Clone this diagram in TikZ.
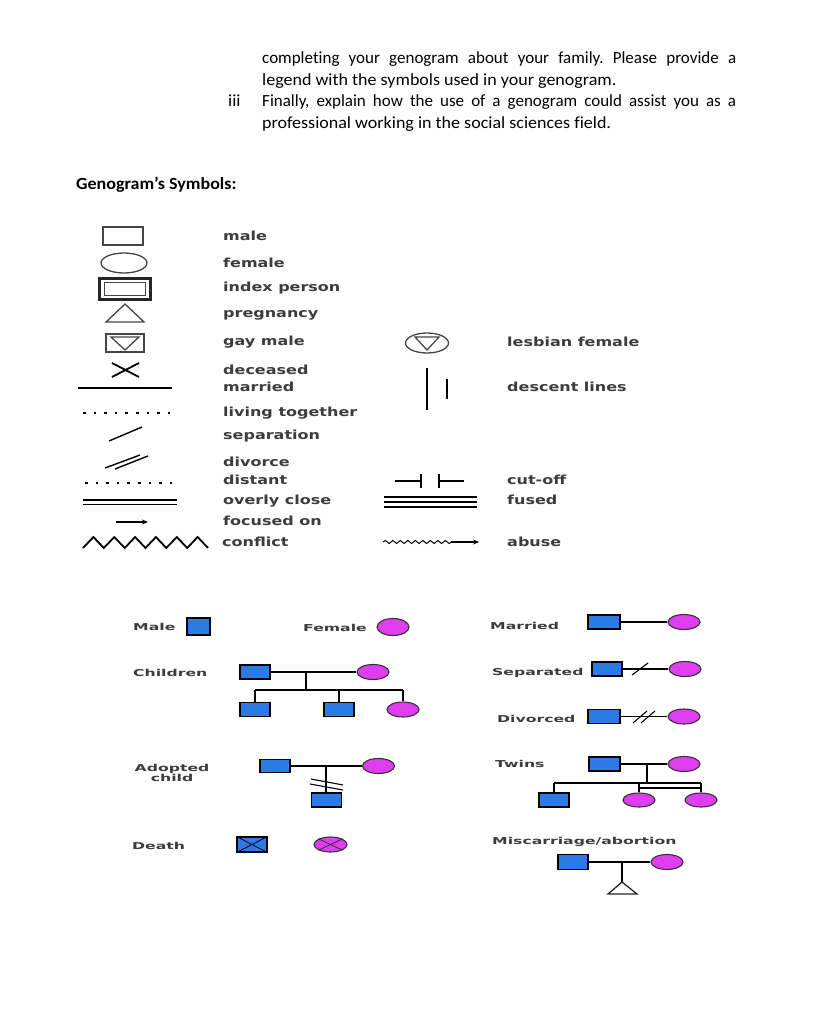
\documentclass[tikz,border=0pt]{standalone}
\usepackage{graphicx}
\usepackage{fontspec}
\setmainfont{Carlito}[Ligatures={NoCommon}]
\newfontfamily\lblfont{DejaVu Sans}
\usetikzlibrary{shapes.geometric,decorations.pathmorphing,arrows.meta,calc}
\definecolor{gblue}{RGB}{44,122,230}
\definecolor{gmag}{RGB}{222,62,240}
\definecolor{lgray}{RGB}{70,70,70}
\definecolor{tgray}{RGB}{60,60,60}
\newcommand\sxa[1]{\scalebox{1.28}[1]{#1}}
\newcommand\sxb[1]{\scalebox{1.65}[1]{#1}}
\newcommand\sxt[1]{\scalebox{1.06}[1]{#1}}
\frenchspacing
\begin{document}
\begin{tikzpicture}[x=1pt,y=-1pt,
  body/.style={anchor=base west, inner sep=0, font=\fontsize{17}{21}\selectfont},
  lab/.style={anchor=mid west, inner sep=0, text=tgray, font=\lblfont\bfseries\fontsize{12.5}{15}\selectfont},
  glab/.style={anchor=mid west, inner sep=0, text=tgray, font=\lblfont\bfseries\fontsize{9.5}{11}\selectfont},
  sym/.style={draw=lgray, line width=1.3pt},
  bl/.style={draw=black, line width=1.4pt},
  msq/.style={rectangle, draw=black, fill=gblue, line width=1.1pt, minimum width=30pt, minimum height=14pt, inner sep=0},
  fem/.style={ellipse, draw=black!80, fill=gmag, line width=1.1pt, minimum width=32pt, minimum height=15pt, inner sep=0},
  rel/.style={draw=black, line width=1.1pt},
  desc/.style={draw=black, line width=2pt}]
\useasboundingbox (0,0) rectangle (838,1024);
\fill[white] (0,0) rectangle (838,1024);

% ---------- top text ----------
\node[body] (t1) at (262,64) {\makebox[474pt][s]{completing your genogram about your family. Please provide a}};
\node[body] (t2) at (262,85.5) {\sxt{legend with the symbols used in your genogram.}};
\node[body] (t0) at (228,107) {\sxt{iii}};
\node[body] (t3) at (262,107) {\makebox[474pt][s]{Finally, explain how the use of a genogram could assist you as a}};
\node[body] (t4) at (262,128.5) {\sxt{professional working in the social sciences field.}};
\node[body, font=\bfseries\fontsize{17}{21}\selectfont] (hd) at (76,190) {\sxt{Genogram’s Symbols:}};

% ---------- legend symbols (left) ----------
\draw[sym] (103,227) rectangle (143,245);
\draw[sym] (124,263) ellipse (23 and 10);
\draw[draw=black!85, line width=2.4pt] (99.5,278.5) rectangle (150.5,299.5);
\draw[sym] (104.5,282.5) rectangle (145.5,295.5);
\draw[sym, line join=miter] (106,322) -- (144,322) -- (125,304) -- cycle;
\draw[sym] (106,334) rectangle (144,352);
\draw[sym] (111,337) -- (139,337) -- (125,350) -- cycle;
\draw[bl, line width=1.8pt] (112,363) -- (139,377) (112,377) -- (139,363);
\draw[bl] (78,388) -- (172,388);
\draw[bl, line width=2pt, dash pattern=on 2.5pt off 8.1pt] (83,413) -- (170,413);
\draw[bl] (109,441) -- (142,427);
\draw[bl] (105,468) -- (140,455) (115,469) -- (148,456);
\draw[bl, line width=2pt, dash pattern=on 2.5pt off 8.1pt] (85,483) -- (172,483);
\draw[bl, line width=1.2pt] (83,500) -- (177,500) (83,504.5) -- (177,504.5);
\draw[bl, line width=1.2pt, -{Stealth[length=6pt,width=5pt]}] (116,522) -- (148,522);
\draw[bl, line width=1.8pt, line join=miter] (83,548) -- (93.4,537) -- (103.8,548) -- (114.3,537) -- (124.7,548) -- (135.1,537) -- (145.5,548) -- (155.9,537) -- (166.3,548) -- (176.8,537) -- (187.2,548) -- (197.6,537) -- (208,548);

\node[lab] (lmale) at (223,238) {\sxa{male}};
\node[lab] (lfem) at (223,265) {\sxa{female}};
\node[lab] (lidx) at (223,289) {\sxa{index person}};
\node[lab] (lpreg) at (223,315) {\sxa{pregnancy}};
\node[lab] (lgay) at (223,343) {\sxa{gay male}};
\node[lab] (ldec) at (223,372) {\sxa{deceased}};
\node[lab] (lmar) at (223,389) {\sxa{married}};
\node[lab] (lliv) at (223,414) {\sxa{living together}};
\node[lab] (lsep) at (223,437) {\sxa{separation}};
\node[lab] (ldiv) at (223,464) {\sxa{divorce}};
\node[lab] (ldist) at (223,482) {\sxa{distant}};
\node[lab] (lclose) at (223,502) {\sxa{overly close}};
\node[lab] (lfoc) at (223,523) {\sxa{focused on}};
\node[lab] (lconf) at (222,544) {\sxa{conflict}};

% ---------- legend symbols (right) ----------
\draw[sym] (427,343) ellipse (21.5 and 10);
\draw[sym] (415,337) -- (439,337) -- (427,350) -- cycle;
\draw[bl, line width=2.4pt] (427,368) -- (427,410);
\draw[bl, line width=2.4pt] (447,379) -- (447,399);
\draw[bl, line width=1.3pt] (395,481) -- (421,481) (439,481) -- (464,481);
\draw[bl, line width=2.4pt] (421,474) -- (421,487.5) (439,474) -- (439,487.5);
\draw[bl, line width=1.2pt] (384,497) -- (477,497) (384,502) -- (477,502) (384,507) -- (477,507);
\draw[bl, line width=1pt, decorate, decoration={snake, segment length=7.5pt, amplitude=1.5pt}] (383,542) -- (452,542);
\draw[bl, line width=1.2pt, -{Stealth[length=6pt,width=5pt]}] (451,542) -- (479,542);

\node[lab] (llesb) at (507,344) {\sxa{lesbian female}};
\node[lab] (ldesc) at (507,389) {\sxa{descent lines}};
\node[lab] (lcut) at (507,482) {\sxa{cut-off}};
\node[lab] (lfus) at (507,502) {\sxa{fused}};
\node[lab] (labu) at (507,544) {\sxa{abuse}};

% ---------- examples ----------
\node[glab] (gMale) at (133,628) {\sxb{Male}};
\node[msq, minimum width=23pt, minimum height=17pt] (m0) at (198.5,626.5) {};
\node[glab] (gFemale) at (303,629) {\sxb{Female}};
\node[fem, minimum height=17pt] (f0) at (393,627) {};

% Children
\node[glab] (gChildren) at (133,674) {\sxb{Children}};
\node[msq] (cf) at (255,672) {};
\node[fem] (cm) at (373,672) {};
\draw[rel] (cf) -- (cm);
\coordinate (cj) at (306,672);
\coordinate (cs) at (306,690);
\node[msq] (c1) at (255,709.5) {};
\node[msq] (c2) at (339,709.5) {};
\node[fem] (c3) at (403,709.5) {};
\draw[desc] (cj) -- (cs);
\draw[desc] (c1 |- cs) -- (c3 |- cs);
\draw[desc] (c1 |- cs) -- (c1);
\draw[desc] (c2 |- cs) -- (c2);
\draw[desc] (c3 |- cs) -- (c3);

% Married
\node[glab] (gMarried) at (490,627) {\sxb{Married}};
\node[msq, minimum width=32pt] (mf) at (604,622) {};
\node[fem] (mm) at (684,622) {};
\draw[rel] (mf) -- (mm);

% Separated
\node[glab] (gSep) at (492,673) {\sxb{Separated}};
\node[msq] (sf) at (607,669) {};
\node[fem] (sm) at (685,669) {};
\draw[rel] (sf) -- (sm);
\draw[rel] (632,675) -- (648,663);

% Divorced
\node[glab] (gDiv) at (497,720) {\sxb{Divorced}};
\node[msq, minimum width=32pt] (df) at (604,716.5) {};
\node[fem] (dm) at (684,716.5) {};
\draw[rel] (df) -- (dm);
\draw[rel] (633,723) -- (647,711) (641,723) -- (655,711);

% Adopted child
\node[glab, anchor=center, align=center, font=\lblfont\bfseries\fontsize{9.5}{10}\selectfont] (gAdopt) at (172,773) {\sxb{Adopted}\\\sxb{child}};
\node[msq, minimum height=13pt] (af) at (275,766) {};
\node[fem] (am) at (378.5,766) {};
\draw[rel] (af) -- (am);
\coordinate (aj) at (326,766);
\node[msq] (ac) at (326.5,800) {};
\draw[desc] (aj) -- (aj |- ac.north);
\draw[rel] (311,779) -- (343,785) (310,784) -- (343,790);

% Death
\node[glab] (gDeath) at (132,847) {\sxb{Death}};
\node[msq, minimum height=15pt] (ds) at (252,844.5) {};
\draw[draw=black, line width=0.8pt] (ds.north west) -- (ds.south east) (ds.south west) -- (ds.north east);
\node[fem, minimum width=33pt] (de) at (330.5,844.5) {};
\draw[draw=black!80, line width=0.8pt] (de.north west) -- (de.south east) (de.south west) -- (de.north east);

% Twins
\node[glab] (gTwins) at (495,765) {\sxb{Twins}};
\node[msq, minimum width=31pt] (tf) at (604.5,764) {};
\node[fem] (tm) at (684,764) {};
\draw[rel] (tf) -- (tm);
\coordinate (tj) at (647,764);
\coordinate (ts) at (647,783);
\coordinate (tt) at (647,788);
\node[msq] (ts1) at (554,800) {};
\node[fem, minimum height=14pt] (tw1) at (639,800) {};
\node[fem, minimum height=14pt] (tw2) at (701,800) {};
\draw[desc] (tj) -- (ts);
\draw[rel, line width=1.6pt] (ts1 |- ts) -- (tw2 |- ts);
\draw[desc] (ts1 |- ts) -- (ts1);
\draw[desc] (tw1 |- ts) -- (tw1);
\draw[desc] (tw2 |- ts) -- (tw2);
\draw[rel, line width=1.6pt] (tw1 |- tt) -- (tw2 |- tt);

% Miscarriage
\node[glab] (gMisc) at (492,842) {\sxb{Miscarriage/abortion}};
\node[msq, minimum height=15pt] (xf) at (573,862) {};
\node[fem] (xm) at (667,862) {};
\draw[rel] (xf) -- (xm);
\coordinate (xj) at (622,862);
\coordinate (xa) at (622,882);
\coordinate (xb1) at (608,894);
\coordinate (xb2) at (637,894);
\draw[desc] (xj) -- (xa);
\draw[sym, draw=black!85, line join=miter] (xa) -- (xb1) -- (xb2) -- cycle;
\end{tikzpicture}
\end{document}
